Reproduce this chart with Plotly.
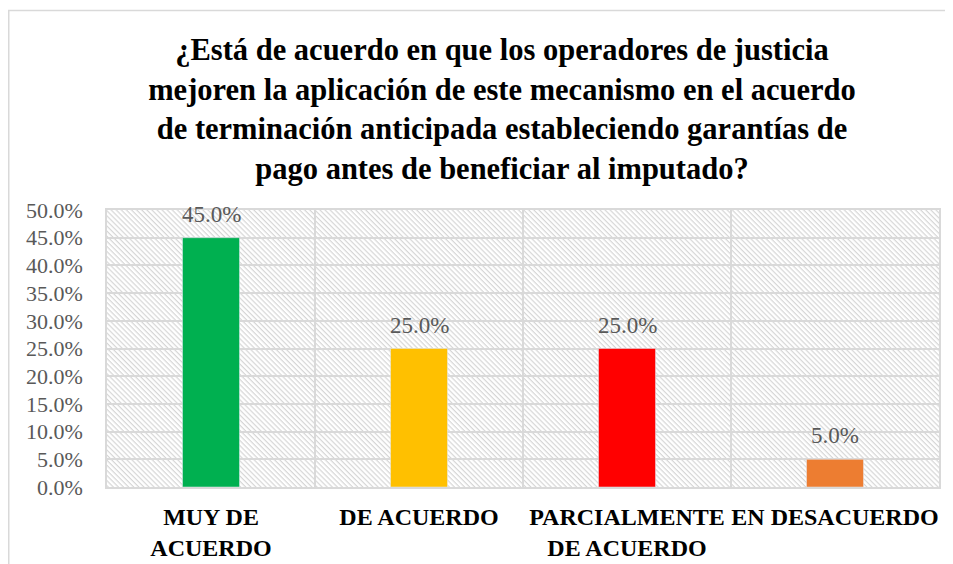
import plotly.graph_objects as go
import urllib.parse

categories = ["MUY DE<br>ACUERDO", "DE ACUERDO", "PARCIALMENTE<br>DE ACUERDO", "EN DESACUERDO"]
values = [0.45, 0.25, 0.25, 0.05]
colors = ["#00B050", "#FFC000", "#FF0000", "#ED7D31"]
title_text = ("<b>¿Está de acuerdo en que los operadores de justicia<br>"
              "mejoren la aplicación de este mecanismo en el acuerdo<br>"
              "de terminación anticipada estableciendo garantías de<br>"
              "pago antes de beneficiar al imputado?</b>")

serif = "Liberation Serif"

svg = ("<svg xmlns='http://www.w3.org/2000/svg' width='832' height='277'>"
       "<defs><pattern id='p' width='3.6' height='3.6' patternUnits='userSpaceOnUse' "
       "patternTransform='rotate(45)'>"
       "<rect width='3.6' height='3.6' fill='white'/>"
       "<rect width='3.6' height='1.2' fill='#d6d6d6'/></pattern></defs>"
       "<rect width='832' height='277' fill='url(#p)'/></svg>")
svg_uri = "data:image/svg+xml;charset=utf-8," + urllib.parse.quote(svg)

L, T, W, H = 99, 202, 832, 277

fig = go.Figure()
fig.add_trace(go.Bar(
    x=categories, y=values, marker_color=colors, width=0.274,
    cliponaxis=False, hoverinfo="skip",
))
for c, v in zip(categories, values):
    fig.add_annotation(x=c, y=v, text=f"{v*100:.1f}%", showarrow=False,
                       yanchor="bottom", yshift=9,
                       font=dict(family=serif, size=23, color="#595959"))

fig.update_layout(
    width=953, height=564,
    margin=dict(l=L, r=953 - L - W, t=T, b=564 - T - H),
    paper_bgcolor="white", plot_bgcolor="rgba(0,0,0,0)",
    showlegend=False,
    title=dict(text=title_text, x=494/953, xanchor="center", xref="container",
               y=1 - 52/564, yanchor="top", yref="container",
               font=dict(family=serif, size=30.5, color="black")),
    images=[dict(source=svg_uri, xref="paper", yref="paper", x=0, y=1,
                 sizex=1, sizey=1, xanchor="left", yanchor="top",
                 sizing="stretch", layer="below")],
    shapes=[dict(type="rect", xref="paper", yref="paper",
                 x0=(0.75 - L)/W, x1=1.2, y0=-0.6, y1=(T + H - 2.5)/H,
                 line=dict(color="#d9d9d9", width=1.5), fillcolor="rgba(0,0,0,0)")],
)
fig.update_xaxes(
    type="category", tickson="boundaries", showgrid=True, gridcolor="#d9d9d9", gridwidth=1.5,
    showline=True, mirror=True, linecolor="#d9d9d9", linewidth=1.5,
    ticks="", tickangle=0,
    tickfont=dict(family=serif, size=24, color="black", weight="bold"),
    ticklabelstandoff=7, automargin=False,
)
fig.update_yaxes(
    range=[0, 0.5], dtick=0.05, tickformat=".1%", showgrid=True,
    gridcolor="#d9d9d9", gridwidth=1.5, zeroline=False,
    showline=True, mirror=True, linecolor="#d9d9d9", linewidth=1.5,
    ticks="", tickfont=dict(family=serif, size=22, color="#595959"),
    ticklabelstandoff=18, automargin=False,
)

fig.write_html("out.html")
